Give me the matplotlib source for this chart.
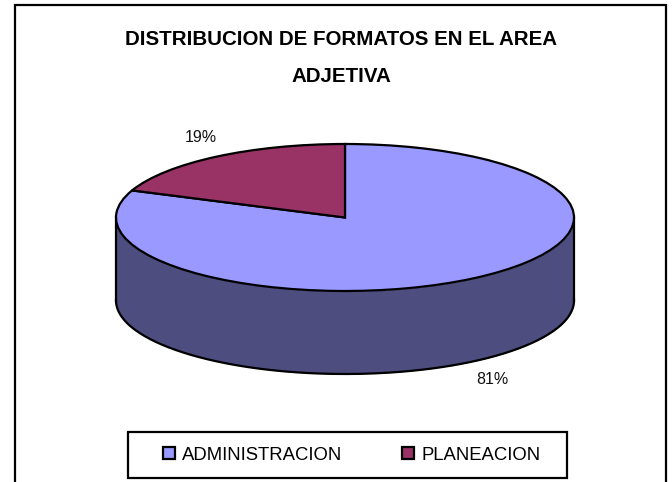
import numpy as np
import matplotlib
matplotlib.use('Agg')
import matplotlib.pyplot as plt
from matplotlib.patches import Rectangle

categories = ['ADMINISTRACION', 'PLANEACION']
values = [81, 19]
labels = ['81%', '19%']
colors = ['#9999FF', '#993366']
side_color = '#4D4D80'
title = 'DISTRIBUCION DE FORMATOS EN EL AREA\nADJETIVA'

W, H = 672, 482
CX, CY = 345, 217.5
RX, RY = 229, 73.5
DEPTH = 83 / RY

plt.rcParams['font.family'] = ['Liberation Sans', 'DejaVu Sans']


def fig_x(px):
	return px / W


def fig_y(py):
	return 1 - py / H


fig = plt.figure(figsize=(W / 100, H / 100), dpi=100)
ax = fig.add_axes([0, 0, 1, 1])

# cylinder wall goes under the top face
t = np.linspace(np.pi, 2 * np.pi, 200)
ax.fill_between(np.cos(t), np.sin(t), np.sin(t) - DEPTH, color=side_color, lw=0, zorder=1)
ax.plot(np.cos(t), np.sin(t) - DEPTH, color='black', lw=1.6, zorder=2)
ax.plot([-1, -1], [0, -DEPTH], color='black', lw=1.6, zorder=2)
ax.plot([1, 1], [0, -DEPTH], color='black', lw=1.6, zorder=2)

wedges, _ = ax.pie(values, colors=colors, startangle=90, counterclock=False, radius=1,
	wedgeprops={'edgecolor': 'black', 'linewidth': 1.6, 'zorder': 3})
ax.set_aspect('auto')
ax.set_xlim(-CX / RX, (W - CX) / RX)
ax.set_ylim((CY - H) / RY, CY / RY)
ax.axis('off')

fig.add_artist(Rectangle((fig_x(15), fig_y(520)), fig_x(651), 515 / H, transform=fig.transFigure,
	facecolor='none', edgecolor='black', lw=1.6))
fig.add_artist(Rectangle((fig_x(128), fig_y(478)), fig_x(439), 46 / H, transform=fig.transFigure,
	facecolor='white', edgecolor='black', lw=1.6))

fig.text(fig_x(341), fig_y(58), title, ha='center', va='center', fontsize=14.8, fontweight='bold',
	linespacing=2.2, color='black')
fig.text(fig_x(492), fig_y(380), labels[0], ha='center', va='center', fontsize=11.5, color='#111111')
fig.text(fig_x(201), fig_y(137), labels[1], ha='center', va='center', fontsize=11.5, color='#111111')

leg = fig.legend(wedges, categories, loc='center left', bbox_to_anchor=(fig_x(163), fig_y(455)), ncol=2,
	fontsize=13.3, frameon=False, handlelength=0.65, handleheight=0.65, handletextpad=0.4,
	columnspacing=3.2, borderpad=0, borderaxespad=0)
leg.set_zorder(5)

fig.savefig('out.png', dpi=100)
